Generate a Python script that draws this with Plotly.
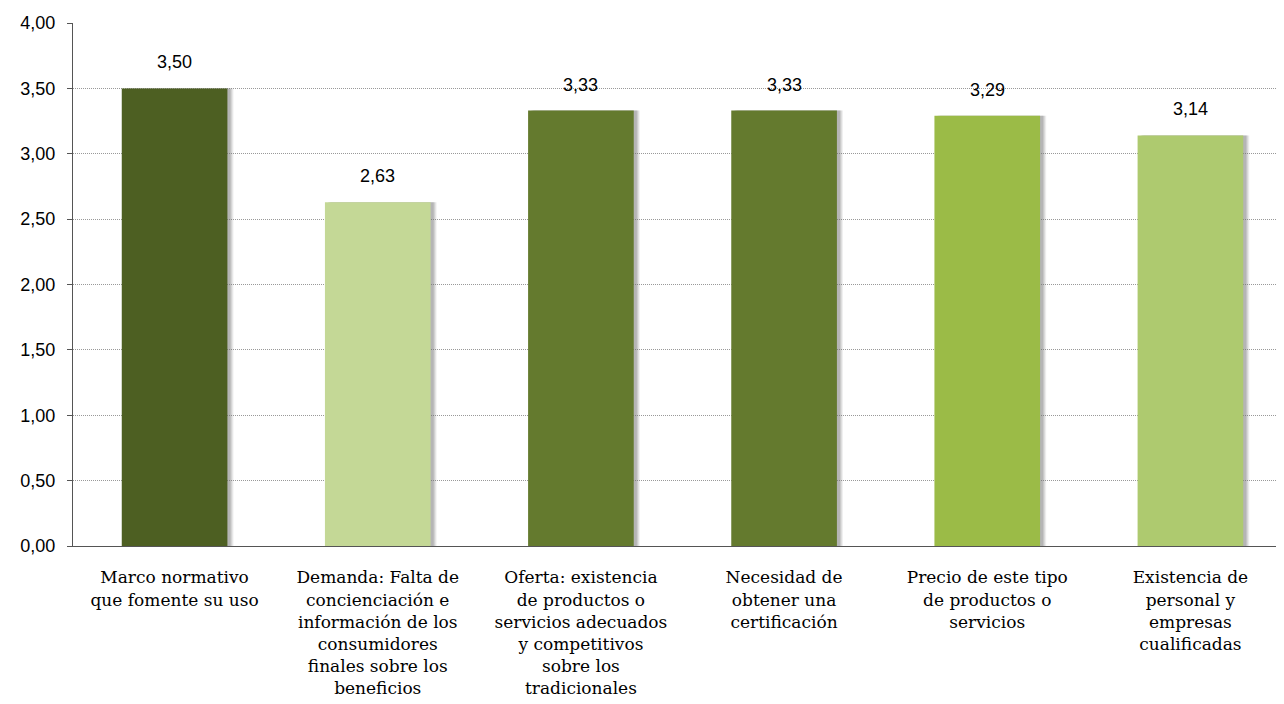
import plotly.graph_objects as go

categories = [
    "Marco normativo<br>que fomente su uso",
    "Demanda: Falta de<br>concienciación e<br>información de los<br>consumidores<br>finales sobre los<br>beneficios",
    "Oferta: existencia<br>de productos o<br>servicios adecuados<br>y competitivos<br>sobre los<br>tradicionales",
    "Necesidad de<br>obtener una<br>certificación",
    "Precio de este tipo<br>de productos o<br>servicios",
    "Existencia de<br>personal y<br>empresas<br>cualificadas",
]
values = [3.50, 2.63, 3.33, 3.33, 3.29, 3.14]
colors = ["#4D5F22", "#C4D896", "#647A2E", "#647A2E", "#9BBB47", "#AECA6F"]
labels = ["3,50", "2,63", "3,33", "3,33", "3,29", "3,14"]
ticks = [0, 0.5, 1, 1.5, 2, 2.5, 3, 3.5, 4]
tick_text = ["0,00", "0,50", "1,00", "1,50", "2,00", "2,50", "3,00", "3,50", "4,00"]

xs = list(range(len(categories)))

fig = go.Figure()
# soft shadow behind the bars
for off, alpha in [(-0.23, 0.10), (-0.235, 0.14), (-0.24, 0.18), (-0.245, 0.22)]:
    fig.add_trace(go.Bar(
        x=xs, y=values, width=0.52, offset=off,
        marker=dict(color=f"rgba(110,110,110,{alpha})", line=dict(width=0)),
        hoverinfo="skip", showlegend=False,
    ))
fig.add_trace(go.Bar(
    x=xs, y=values, width=0.52,
    marker=dict(color=colors, line=dict(width=0)),
    showlegend=False,
))
for x, v, t in zip(xs, values, labels):
    fig.add_annotation(
        x=x, y=v, text=t, showarrow=False, yanchor="bottom", yshift=14,
        font=dict(family="Liberation Sans, Arial", size=18, color="#000"),
    )
fig.update_layout(
    width=1284, height=704,
    margin=dict(l=65, r=0, t=15, b=166),
    barmode="overlay",
    plot_bgcolor="white", paper_bgcolor="white",
)
fig.update_xaxes(
    tickmode="array", tickvals=xs, ticktext=categories,
    range=[-0.5, 5.5], showgrid=False, automargin=False,
    showline=True, linecolor="#555", linewidth=1,
    tickfont=dict(family="DejaVu Serif", size=17, color="#000"),
    ticks="", ticklabelstandoff=16,
)
fig.update_yaxes(
    range=[0, 4], tickmode="array", tickvals=ticks, ticktext=tick_text,
    showgrid=True, gridcolor="#999999", griddash="1px,1px", gridwidth=1,
    showline=True, linecolor="#555", linewidth=1, automargin=False,
    ticks="outside", ticklen=5, tickcolor="#555",
    tickfont=dict(family="Liberation Sans, Arial", size=18, color="#000"),
    ticklabelstandoff=8,
    zeroline=False,
)
fig.write_html("out.html")
